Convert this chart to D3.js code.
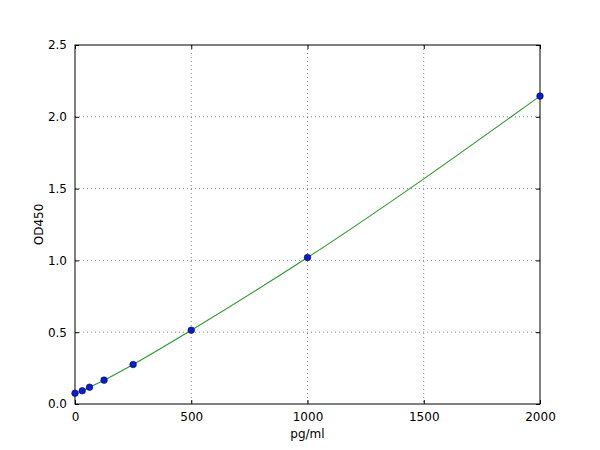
<!DOCTYPE html>
<html>
<head>
<meta charset="utf-8">
<script src="https://cdn.jsdelivr.net/npm/d3@7"></script>
<style>
  body { margin: 0; background: #fff; }
  text { font-family: "DejaVu Sans", sans-serif; }
</style>
</head>
<body>
<script>
// standard curve values
const conc = [0, 31.25, 62.5, 125, 250, 500, 1000, 2000];
const od = [0.075, 0.092, 0.117, 0.166, 0.275, 0.514, 1.02, 2.144];
const xTicks = [0, 500, 1000, 1500, 2000];
const yTicks = [0, 0.5, 1.0, 1.5, 2.0, 2.5];

const margin = { top: 45, right: 60, bottom: 46, left: 75 };
const width = 600 - margin.left - margin.right;
const height = 450 - margin.top - margin.bottom;

const svg = d3.select("body")
  .append("svg")
  .attr("width", 600)
  .attr("height", 450);

const g = svg.append("g")
  .attr("transform", "translate(" + margin.left + "," + margin.top + ")");

const x = d3.scaleLinear().domain([0, 2000]).range([0, width]);
const y = d3.scaleLinear().domain([0, 2.5]).range([height, 0]);

// dotted grid (inner ticks only, the frame covers the edges)
g.append("g").selectAll("line")
  .data(xTicks.slice(1, -1))
  .join("line")
  .attr("x1", d => x(d)).attr("x2", d => x(d))
  .attr("y1", 0).attr("y2", height)
  .attr("stroke", "#666")
  .attr("stroke-width", 0.8)
  .attr("stroke-dasharray", "1,3");
g.append("g").selectAll("line")
  .data(yTicks.slice(1, -1))
  .join("line")
  .attr("x1", 0).attr("x2", width)
  .attr("y1", d => y(d)).attr("y2", d => y(d))
  .attr("stroke", "#666")
  .attr("stroke-width", 0.8)
  .attr("stroke-dasharray", "1,3");

// axes with inward ticks, like matplotlib classic
const fmtY = d3.format(".1f");
function styleAxis(sel) {
  sel.select(".domain").remove();
  sel.selectAll(".tick line").attr("stroke", "#000");
  sel.selectAll(".tick text")
    .attr("fill", "#000")
    .style("font-size", "12px")
    .style("font-family", "DejaVu Sans, sans-serif");
}

g.append("g")
  .attr("transform", "translate(0," + height + ")")
  .call(d3.axisBottom(x).tickValues(xTicks).tickSize(-4).tickPadding(8).tickFormat(d3.format("d")))
  .call(styleAxis);
g.append("g")
  .call(d3.axisTop(x).tickValues(xTicks).tickSize(-4).tickFormat(""))
  .call(styleAxis);
g.append("g")
  .call(d3.axisLeft(y).tickValues(yTicks).tickSize(-4).tickPadding(8).tickFormat(fmtY))
  .call(styleAxis);
g.append("g")
  .attr("transform", "translate(" + width + ",0)")
  .call(d3.axisRight(y).tickValues(yTicks).tickSize(-4).tickFormat(""))
  .call(styleAxis);

// frame
g.append("rect")
  .attr("width", width)
  .attr("height", height)
  .attr("fill", "none")
  .attr("stroke", "#000")
  .attr("stroke-width", 1);

// fitted curve
const pts = conc.map((c, i) => [c, od[i]]);
g.append("path")
  .datum(pts)
  .attr("fill", "none")
  .attr("stroke", "#2a992a")
  .attr("stroke-width", 1.1)
  .attr("d", d3.line().x(d => x(d[0])).y(d => y(d[1])).curve(d3.curveMonotoneX));

// points
g.append("g").selectAll("circle")
  .data(pts)
  .join("circle")
  .attr("cx", d => x(d[0]))
  .attr("cy", d => y(d[1]))
  .attr("r", 3.3)
  .attr("fill", "#0a1ecc")
  .attr("stroke", "#000066")
  .attr("stroke-width", 0.6);

// axis labels
svg.append("text")
  .attr("x", margin.left + width / 2)
  .attr("y", 438)
  .attr("text-anchor", "middle")
  .style("font-size", "12px")
  .text("pg/ml");
svg.append("text")
  .attr("transform", "translate(43," + (margin.top + height / 2) + ") rotate(-90)")
  .attr("text-anchor", "middle")
  .style("font-size", "12px")
  .text("OD450");
</script>
</body>
</html>
